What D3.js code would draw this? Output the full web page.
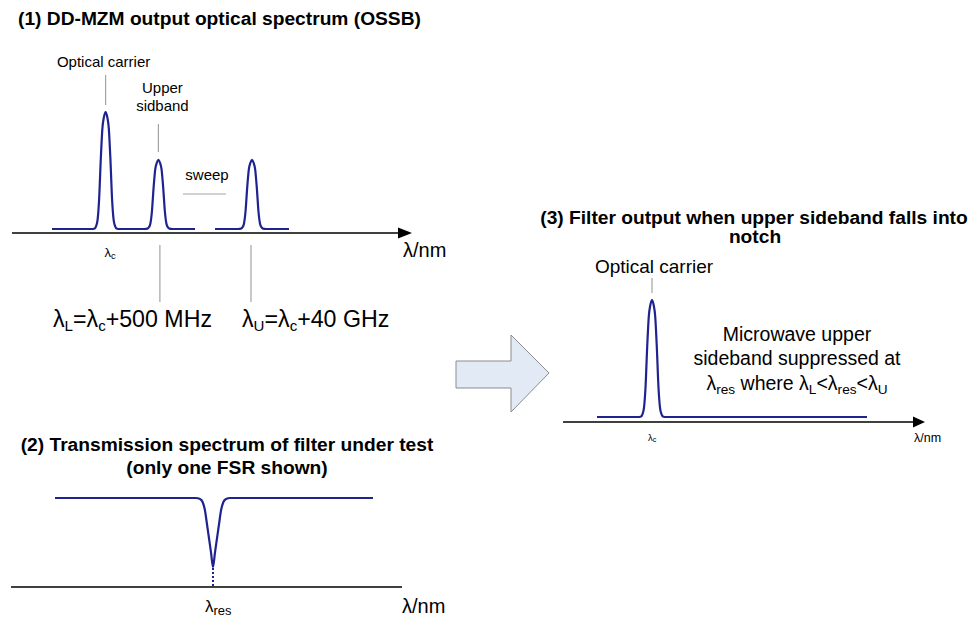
<!DOCTYPE html>
<html>
<head>
<meta charset="utf-8">
<script src="https://cdn.jsdelivr.net/npm/d3@7"></script>
<style>
  body { margin: 0; background: #fff; }
  svg { display: block; }
  text { font-family: "Liberation Sans", Arial, Helvetica, sans-serif; fill: #000; }
</style>
</head>
<body>
<svg id="fig" width="976" height="622"></svg>
<script>
// ---- Data -------------------------------------------------------------

// Normalised line shape of one spectral line: [offset, relative power]
const peakShape = [
  [-3.5, 0], [-2.75, 0.005], [-2.375, 0.025], [-2, 0.08], [-1.625, 0.25],
  [-1.2, 0.6], [-0.8, 0.86], [-0.4, 0.96], [0, 1],
  [0.4, 0.96], [0.8, 0.86], [1.2, 0.6], [1.625, 0.25], [2, 0.08],
  [2.375, 0.025], [2.75, 0.005], [3.5, 0]
];

// (1) OSSB spectrum: carrier plus the upper sideband at both sweep ends
const ossbPeaks = [
  { center: 23.4, level: 1.0 },   // optical carrier, λc
  { center: 36.6, level: 0.59 },  // upper sideband at λL
  { center: 60.0, level: 0.59 }   // upper sideband at λU
];
const ossbTraces = [
  { from: 10, to: 45.75, peaks: [0, 1] },
  { from: 50.75, to: 69.25, peaks: [2] }
];

// (2) Filter transmission over one FSR, with the notch at λres
const filterSpan = [11, 90.5];
const notchCenter = 50.5;
const notchProfile = [
  [-4.25, 1], [-3.25, 0.99], [-2.6, 0.955], [-2.05, 0.87], [-1.5, 0.705],
  [-1, 0.547], [-0.5, 0.388], [0, 0.225],
  [0.5, 0.388], [1, 0.547], [1.5, 0.705], [2.05, 0.87], [2.6, 0.955],
  [3.25, 0.99], [4.25, 1]
];

// (3) Filter output: only the carrier survives
const outputPeaks = [{ center: 22.25, level: 1.0 }];
const outputTrace = { from: 8.5, to: 76, peaks: [0] };

// Text
const titles = [
  "(1) DD-MZM output optical spectrum (OSSB)",
  "(2) Transmission spectrum of filter under test",
  "(only one FSR shown)",
  "(3) Filter output when upper sideband falls into",
  "notch"
];
const axisLabel = "λ/nm";
const sweepLabels = ["λ_{L}=λ_{c}+500 MHz", "λ_{U}=λ_{c}+40 GHz"];
const noteLines = ["Microwave upper", "sideband suppressed at", "λ_{res} where λ_{L}<λ_{res}<λ_{U}"];

// ---- Drawing ----------------------------------------------------------

const svg = d3.select("#fig");
svg.append("rect").attr("width", 976).attr("height", 622).attr("fill", "#fff");

const TRACE = "#1f2390";
const LEADER = "#a3a3a3";

// text with "_{...}" subscripts
function richText(g, x, y, src, size, opts = {}) {
  const t = g.append("text")
    .attr("x", x).attr("y", y)
    .attr("font-size", size)
    .attr("text-anchor", opts.anchor || "start")
    .attr("font-weight", opts.bold ? "bold" : null);
  const parts = src.split(/_\{([^}]*)\}/);
  let shift = 0;
  parts.forEach((p, i) => {
    if (!p) return;
    const sub = i % 2 === 1;
    const target = sub ? size * (opts.drop || 0.2) : 0;
    const ts = t.append("tspan").text(p).attr("dy", target - shift);
    if (sub) ts.attr("font-size", size * (opts.subScale || 0.65));
    shift = target;
  });
  return t;
}

function tracePoints(trace, peaks) {
  const pts = [[trace.from, 0]];
  trace.peaks.forEach(i => {
    peakShape.forEach(([dx, f]) => pts.push([peaks[i].center + dx, f * peaks[i].level]));
  });
  pts.push([trace.to, 0]);
  return pts;
}

function arrowAxis(g, x0, x1, y, head) {
  g.append("line")
    .attr("x1", x0).attr("x2", x1 - head.len + 1)
    .attr("y1", y).attr("y2", y)
    .attr("stroke", "#000").attr("stroke-width", 1.5);
  g.append("path")
    .attr("d", `M${x1},${y} L${x1 - head.len},${y - head.half} L${x1 - head.len},${y + head.half} Z`)
    .attr("fill", "#000");
}

function leader(g, x, y0, y1) {
  g.append("line")
    .attr("x1", x).attr("x2", x).attr("y1", y0).attr("y2", y1)
    .attr("stroke", LEADER).attr("stroke-width", 1.2);
}

// ---------- Panel 1 ----------
{
  const g = svg.append("g");
  const x = d3.scaleLinear().domain([0, 100]).range([12, 412]);
  const y = d3.scaleLinear().domain([0, 1]).range([229, 112]);
  const axisY = y(0) + 4;

  richText(g, 18, 25, titles[0], 19.2, { bold: true });

  const line = d3.line().x(d => x(d[0])).y(d => y(d[1])).curve(d3.curveMonotoneX);
  ossbTraces.forEach(tr => {
    g.append("path").attr("d", line(tracePoints(tr, ossbPeaks)))
      .attr("fill", "none").attr("stroke", TRACE).attr("stroke-width", 2.2);
  });

  arrowAxis(g, x(0), x(100), axisY, { len: 14, half: 5.5 });

  // annotations
  const cx = x(ossbPeaks[0].center), sx = x(ossbPeaks[1].center), ux = x(ossbPeaks[2].center);
  richText(g, cx - 2, 67, "Optical carrier", 15, { anchor: "middle" });
  leader(g, cx, 75, 105);
  richText(g, sx + 4, 93, "Upper", 15, { anchor: "middle" });
  richText(g, sx + 4, 111, "sidband", 15, { anchor: "middle" });
  leader(g, sx, 124, 152);
  richText(g, 207, 180, "sweep", 15, { anchor: "middle" });
  g.append("line").attr("x1", 183).attr("x2", 226).attr("y1", 194).attr("y2", 194)
    .attr("stroke", LEADER).attr("stroke-width", 1.2);

  richText(g, cx - 1, 257, "λ_{c}", 13, { subScale: 0.72, drop: 0.15 });
  richText(g, 403, 257, axisLabel, 20);

  leader(g, sx + 1.5, 245, 302);
  leader(g, ux - 1, 245, 302);
  richText(g, 53, 327, sweepLabels[0], 23.2, { drop: 0.18 });
  richText(g, 242, 327, sweepLabels[1], 23.2, { drop: 0.18 });
}

// ---------- Panel 2 ----------
{
  const g = svg.append("g");
  const x = d3.scaleLinear().domain([0, 97.75]).range([11, 402]);
  const y = d3.scaleLinear().domain([0, 1]).range([587, 498]);

  richText(g, 227, 451, titles[1], 19.2, { anchor: "middle", bold: true });
  richText(g, 227, 474, titles[2], 19.2, { anchor: "middle", bold: true });

  const pts = [[filterSpan[0], 1]]
    .concat(notchProfile.map(([dx, t]) => [notchCenter + dx, t]))
    .concat([[filterSpan[1], 1]]);
  const line = d3.line().x(d => x(d[0])).y(d => y(d[1])).curve(d3.curveMonotoneX);
  g.append("path").attr("d", line(pts))
    .attr("fill", "none").attr("stroke", TRACE).attr("stroke-width", 2.2);

  // dotted drop from the notch minimum to the axis
  const minT = d3.min(notchProfile, d => d[1]);
  g.append("line")
    .attr("x1", x(notchCenter)).attr("x2", x(notchCenter))
    .attr("y1", y(minT) + 1).attr("y2", y(0))
    .attr("stroke", TRACE).attr("stroke-width", 2).attr("stroke-dasharray", "2,2");

  g.append("line").attr("x1", x(0)).attr("x2", x(97.75)).attr("y1", y(0)).attr("y2", y(0))
    .attr("stroke", "#000").attr("stroke-width", 1.5);

  richText(g, x(notchCenter) - 8, 612, "λ_{res}", 17, { subScale: 0.76, drop: 0.18 });
  richText(g, 402, 613, axisLabel, 20);
}

// ---------- Arrow between panels ----------
svg.append("path")
  .attr("d", "M456,361 L511,361 L511,335 L549,373 L511,412 L511,388 L456,388 Z")
  .attr("fill", "#e2eaf6").attr("stroke", "#8c8c8c").attr("stroke-width", 1);

// ---------- Panel 3 ----------
{
  const g = svg.append("g");
  const x = d3.scaleLinear().domain([0, 90.5]).range([563, 925]);
  const y = d3.scaleLinear().domain([0, 1]).range([417, 300]);
  const axisY = y(0) + 5;

  richText(g, 754, 224, titles[3], 19.2, { anchor: "middle", bold: true });
  richText(g, 755, 243, titles[4], 19.2, { anchor: "middle", bold: true });

  const line = d3.line().x(d => x(d[0])).y(d => y(d[1])).curve(d3.curveMonotoneX);
  g.append("path").attr("d", line(tracePoints(outputTrace, outputPeaks)))
    .attr("fill", "none").attr("stroke", TRACE).attr("stroke-width", 2.2);

  arrowAxis(g, x(0), x(90.5), axisY, { len: 12, half: 5.5 });

  const cx = x(outputPeaks[0].center);
  richText(g, cx + 2, 273, "Optical carrier", 19, { anchor: "middle" });
  leader(g, cx, 278, 293);

  richText(g, 797, 341, noteLines[0], 19.5, { anchor: "middle" });
  richText(g, 797, 365, noteLines[1], 19.5, { anchor: "middle" });
  richText(g, 797, 390, noteLines[2], 19.5, { anchor: "middle", subScale: 0.7, drop: 0.2 });

  richText(g, cx - 4, 441, "λ_{c}", 9.5, { subScale: 0.75, drop: 0.15 });
  richText(g, 914, 442, axisLabel, 12.5);
}
</script>
</body>
</html>
